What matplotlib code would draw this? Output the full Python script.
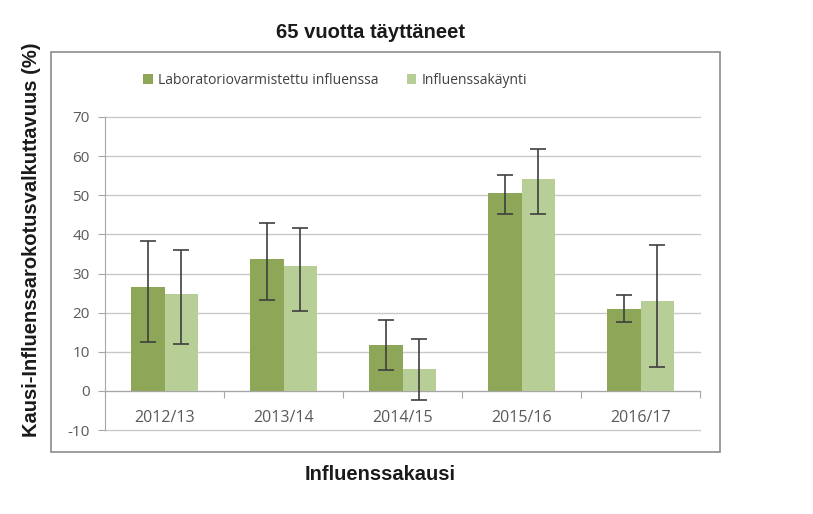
import matplotlib
matplotlib.use("Agg")

import matplotlib.pyplot as plt
import numpy as np
from matplotlib.patches import Rectangle

plt.rcParams["axes.unicode_minus"] = False

seasons = ["2012/13", "2013/14", "2014/15", "2015/16", "2016/17"]

lab_values = [26.5, 33.7, 11.8, 50.7, 21.0]
lab_low = [12.6, 23.1, 5.4, 45.2, 17.7]
lab_high = [38.4, 42.9, 18.2, 55.2, 24.4]

visit_values = [24.7, 32.0, 5.7, 54.2, 23.0]
visit_low = [12.0, 20.5, -2.3, 45.2, 6.1]
visit_high = [35.9, 41.6, 13.2, 61.9, 37.2]

series_names = ["Laboratoriovarmistettu influenssa", "Influenssakäynti"]

dark_green = "#8DA658"
light_green = "#B7CE96"
grid_gray = "#C9C9C9"
axis_gray = "#A6A6A6"
text_gray = "#595959"
tick_font = "Open Sans"

fig = plt.figure(figsize=(8.13, 5.14), dpi=100)
W, H = 813, 514

# outer chart frame (the embedded excel chart box)
fig.patches.append(Rectangle((51 / W, 1 - 452 / H), (720 - 51) / W, (452 - 52) / H,
                             transform=fig.transFigure, fill=False,
                             edgecolor="#8C8C8C", linewidth=1.2))

ax = fig.add_axes([105 / W, 1 - 430 / H, (700 - 105) / W, (430 - 117) / H])

x = np.arange(len(seasons))
bw = 0.28

lab_err = [np.array(lab_values) - np.array(lab_low), np.array(lab_high) - np.array(lab_values)]
visit_err = [np.array(visit_values) - np.array(visit_low), np.array(visit_high) - np.array(visit_values)]

ax.bar(x - bw / 2, lab_values, bw, color=dark_green, label=series_names[0], zorder=3)
ax.bar(x + bw / 2, visit_values, bw, color=light_green, label=series_names[1], zorder=3)
ax.errorbar(x - bw / 2, lab_values, yerr=lab_err, fmt="none", ecolor="#3F3F3F",
            elinewidth=1.2, capsize=5.5, capthick=1.2, zorder=4)
ax.errorbar(x + bw / 2, visit_values, yerr=visit_err, fmt="none", ecolor="#3F3F3F",
            elinewidth=1.2, capsize=5.5, capthick=1.2, zorder=4)

ax.set_xlim(-0.5, len(seasons) - 0.5)
ax.set_ylim(-10, 70)
ax.set_yticks(range(-10, 71, 10))
ax.yaxis.grid(True, color=grid_gray, linewidth=1)
for gl in ax.get_ygridlines():
    gl.set_clip_on(False)
ax.set_axisbelow(True)

for side in ["top", "right"]:
    ax.spines[side].set_visible(False)
ax.spines["left"].set_color(axis_gray)
ax.spines["bottom"].set_color(axis_gray)
ax.spines["bottom"].set_position(("data", 0))

# category boundaries as tick marks, labels in the middle
ax.set_xticks(np.arange(len(seasons) + 1) - 0.5)
ax.set_xticklabels([])
ax.set_xticks(x, minor=True)
ax.set_xticklabels(seasons, minor=True, fontsize=11.5, color=text_gray, family=tick_font)
ax.tick_params(axis="x", which="major", length=5, color=axis_gray, direction="out")
ax.tick_params(axis="x", which="minor", length=0, pad=14)
ax.tick_params(axis="y", length=5, color=axis_gray, labelsize=11, labelcolor=text_gray, pad=6)
for lbl in ax.get_yticklabels():
    lbl.set_family(tick_font)

ax.legend(loc="center", bbox_to_anchor=(0.387, 1.118), ncol=2, frameon=False,
          handlelength=0.7, handleheight=0.7, handletextpad=0.4, columnspacing=2.0,
          prop={"family": tick_font, "size": 10}, labelcolor="#404040")

fig.text(370 / W, 1 - 32 / H, "65 vuotta täyttäneet", ha="center", va="center",
         fontsize=14.5, fontweight="bold", family="Liberation Sans", color="#1A1A1A")
fig.text(32 / W, 1 - 240 / H, "Kausi-Influenssarokotusvalkuttavuus (%)", ha="center",
         va="center", rotation=90, fontsize=14.5, fontweight="bold",
         family="Liberation Sans", color="#1A1A1A")
fig.text(380 / W, 1 - 475 / H, "Influenssakausi", ha="center", va="center",
         fontsize=14.5, fontweight="bold", family="Liberation Sans", color="#1A1A1A")

fig.savefig("out.png", dpi=100)
